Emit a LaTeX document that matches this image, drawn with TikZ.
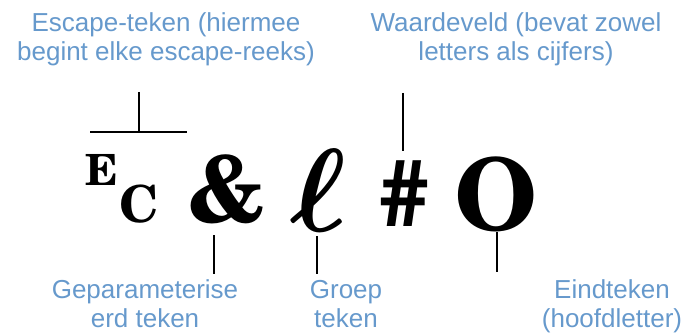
\documentclass[tikz,border=0pt]{standalone}
\usepackage{fontspec}
\usepackage{amsmath}
\usepackage{graphicx}
\setmainfont{Liberation Sans}
\newfontfamily\glyphfont{TeX Gyre Schola}
\definecolor{labelblue}{RGB}{102,153,204}
\tikzset{
  lbl/.style={font=\fontsize{26}{29}\selectfont, text=labelblue, align=center, inner sep=0pt, anchor=base},
  glyph/.style={inner sep=0pt, anchor=center, font=\glyphfont\bfseries},
  stub/.style={draw=black, line width=1.4pt}
}
\begin{document}
\begin{tikzpicture}[x=1pt,y=-1pt]
\useasboundingbox (0,0) rectangle (686,334);
% labels (anchor = baseline of the last line)
\node[lbl] (esc) at (166,61) {Escape-teken (hiermee\\begint elke escape-reeks)};
\node[lbl] (wval) at (516,61) {Waardeveld (bevat zowel\\letters als cijfers)};
\node[lbl] (par) at (145,327) {Geparameterise\\erd teken};
\node[lbl] (grp) at (346,327) {Groep\\teken};
\node[lbl] (term) at (612,327) {Eindteken\\(hoofdletter)};
% glyphs
\node[glyph, font=\glyphfont\bfseries\fontsize{43}{43}\selectfont] (E) at (101.5,169.5) {E};
\node[glyph, font=\glyphfont\bfseries\fontsize{51}{51}\selectfont] (C) at (139.5,204) {C};
\node[glyph, font=\glyphfont\bfseries\fontsize{92}{92}\selectfont] (amp) at (227,189.5) {\&};
\node[glyph, font=\fontsize{20}{20}\selectfont] (ell) at (318,190.5) {\scalebox{5.7}{$\boldsymbol{\ell}$}};
\node[glyph, font=\glyphfont\bfseries\fontsize{94}{94}\selectfont] (hash) at (404,194) {\#};
\node[glyph, font=\glyphfont\bfseries\fontsize{100}{100}\selectfont] (O) at (496,194.5) {O};
% stub coordinates
\coordinate (brL) at (90,132);
\coordinate (brR) at (187,132);
\coordinate (brM) at (139,132);
\coordinate (brT) at (139,92);
\coordinate (hT) at (403,93);
\coordinate (hB) at (403,151);
\coordinate (aT) at (214,235);
\coordinate (aB) at (214,274);
\coordinate (lT) at (317,236);
\coordinate (lB) at (317,274);
\coordinate (oT) at (497,232);
\coordinate (oB) at (497,272);
% stubs
\draw[stub] (brL) -- (brR);
\draw[stub] (brT) -- (brM);
\draw[stub] (hT) -- (hB);
\draw[stub] (aT) -- (aB);
\draw[stub] (lT) -- (lB);
\draw[stub] (oT) -- (oB);
\end{tikzpicture}
\end{document}
